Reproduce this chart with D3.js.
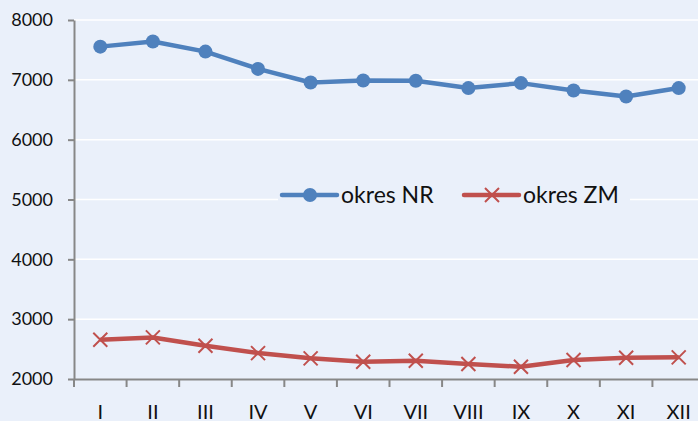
<!DOCTYPE html>
<head>
    <meta charset="utf-8">
    <title>okres NR / okres ZM</title>
    <style>
        body { margin: 0; background: #eaf0fa; }
        text { font-family: Lato, "Open Sans", sans-serif; fill: #111; }
    </style>
</head>
<body>
<svg width="698" height="421"></svg>

<script src="https://d3js.org/d3.v7.min.js"></script>

<script>

    //data
    var months = ["I", "II", "III", "IV", "V", "VI", "VII", "VIII", "IX", "X", "XI", "XII"];
    var okresNR = [7555, 7640, 7472, 7183, 6955, 6988, 6985, 6862, 6945, 6822, 6722, 6862];
    var okresZM = [2655, 2695, 2555, 2433, 2345, 2288, 2305, 2250, 2205, 2317, 2355, 2362];
    var yTicks = [2000, 3000, 4000, 5000, 6000, 7000, 8000];

    var svg = d3.select("svg"),
        width = +svg.attr("width"),
        height = +svg.attr("height");

    var blue = "#4f81bd",
        red = "#c0504d",
        axisColor = "#878787";

    svg.append("rect")
        .attr("width", width).attr("height", height)
        .attr("fill", "#eaf0fa");

    //scales - the plot runs a bit past the right edge, like the picture
    var x = d3.scaleBand().domain(months).range([74, 705]).padding(0);
    var y = d3.scaleLinear().domain([2000, 8000]).range([379, 20]);
    var cx = d => x(d) + x.bandwidth() / 2;

    //gridlines
    svg.append("g")
        .selectAll("line")
        .data(yTicks.filter(d => d > 2000))
        .enter().append("line")
            .attr("x1", 74).attr("x2", width)
            .attr("y1", d => y(d)).attr("y2", d => y(d))
            .attr("stroke", "#fff").attr("stroke-width", 1.5);

    //y axis
    var yAxis = svg.append("g")
        .attr("transform", "translate(74,0)")
        .call(d3.axisLeft(y).tickValues(yTicks).tickFormat(d3.format("d"))
            .tickSize(6).tickPadding(15).tickSizeOuter(0));
    yAxis.select(".domain").attr("stroke", axisColor).attr("stroke-width", 2);
    yAxis.selectAll(".tick line").attr("stroke", axisColor).attr("stroke-width", 2);
    yAxis.selectAll("text").attr("font-size", 18).attr("font-family", null).attr("fill", "#111");

    //x axis: labels at centres, ticks at the band edges
    var xAxis = svg.append("g")
        .attr("transform", "translate(0,379)")
        .call(d3.axisBottom(x).tickSize(0).tickPadding(26).tickSizeOuter(0));
    xAxis.select(".domain").attr("stroke", axisColor).attr("stroke-width", 2);
    xAxis.selectAll("text").attr("font-size", 20).attr("font-family", null).attr("fill", "#111");

    xAxis.selectAll(".edge")
        .data(months.map(d => x(d)).concat([x.range()[1]]))
        .enter().append("line")
            .attr("class", "edge")
            .attr("x1", d => d).attr("x2", d => d)
            .attr("y1", 0).attr("y2", 8)
            .attr("stroke", axisColor).attr("stroke-width", 2);

    var line = d3.line()
        .x((d, i) => cx(months[i]))
        .y(d => y(d));

    //okres NR
    svg.append("path")
        .datum(okresNR)
        .attr("d", line)
        .attr("fill", "none")
        .attr("stroke", blue).attr("stroke-width", 4.5)
        .attr("stroke-linejoin", "round");

    svg.append("g")
        .selectAll("circle")
        .data(okresNR)
        .enter().append("circle")
            .attr("cx", (d, i) => cx(months[i]))
            .attr("cy", d => y(d))
            .attr("r", 7)
            .attr("fill", blue);

    //okres ZM
    svg.append("path")
        .datum(okresZM)
        .attr("d", line)
        .attr("fill", "none")
        .attr("stroke", red).attr("stroke-width", 4.5)
        .attr("stroke-linejoin", "round");

    var cross = "M-7,-7L7,7M-7,7L7,-7";
    svg.append("g")
        .selectAll("path")
        .data(okresZM)
        .enter().append("path")
            .attr("transform", (d, i) => "translate(" + cx(months[i]) + "," + y(d) + ")")
            .attr("d", cross)
            .attr("stroke", red).attr("stroke-width", 2);

    //legend
    var legend = svg.append("g");
    legend.append("rect")
        .attr("x", 278).attr("y", 183).attr("width", 352).attr("height", 26)
        .attr("fill", "#eaf0fa");

    var items = [
        {name: "okres NR", color: blue, x: 282, marker: "circle"},
        {name: "okres ZM", color: red, x: 464, marker: "cross"}
    ];
    items.forEach(function(it) {
        var g = legend.append("g").attr("transform", "translate(" + it.x + ",195)");
        g.append("line")
            .attr("x1", 0).attr("x2", 55)
            .attr("stroke", it.color).attr("stroke-width", 4.5)
            .attr("stroke-linecap", "round");
        if (it.marker === "circle") {
            g.append("circle").attr("cx", 28).attr("r", 7).attr("fill", it.color);
        } else {
            g.append("path").attr("transform", "translate(28,0)")
                .attr("d", cross).attr("stroke", it.color).attr("stroke-width", 2);
        }
        g.append("text")
            .attr("x", 59).attr("y", 8)
            .attr("font-size", 23)
            .text(it.name);
    });

</script>
</body>
